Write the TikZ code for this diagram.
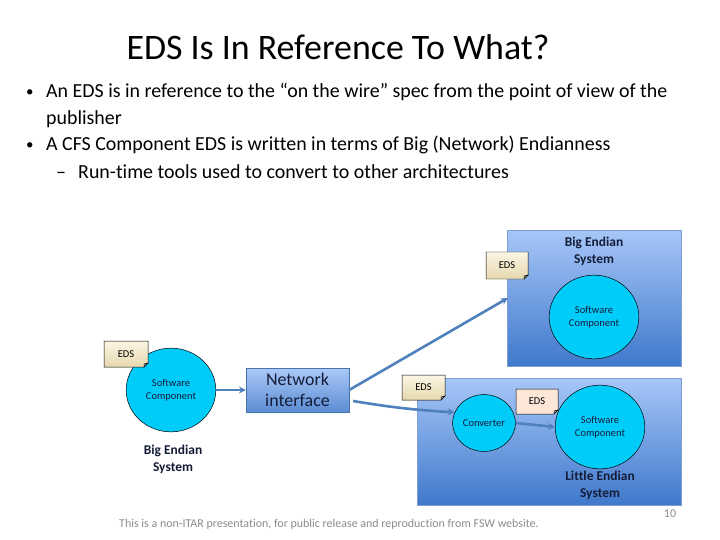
\documentclass[tikz,border=0pt]{standalone}
\usepackage{fontspec}
\setmainfont{Carlito}[Ligatures=CommonOff]
\usetikzlibrary{shapes.geometric,arrows.meta,calc}
\definecolor{arrowblue}{HTML}{4F81BD}
\definecolor{boxtop}{HTML}{A6C6F8}
\definecolor{boxbot}{HTML}{3F78CB}
\definecolor{boxline}{HTML}{7E9ED0}
\definecolor{cyanfill}{HTML}{00CCFA}
\definecolor{navytext}{HTML}{141C38}
\definecolor{notetop}{HTML}{FBF5E4}
\definecolor{notebot}{HTML}{E6D8AE}
\definecolor{notepink}{HTML}{FCE6D8}
\definecolor{footgray}{HTML}{8C8C8C}
\tikzset{
  sysbox/.style={draw=boxline, line width=0.6, top color=boxtop, bottom color=boxbot, inner sep=0},
  swcircle/.style={ellipse, draw=black, line width=0.5, fill=cyanfill, inner sep=0, font=\fontsize{10.5}{13}\selectfont, text=navytext, align=center},
  syslabel/.style={font=\bfseries\fontsize{13.5}{17}\selectfont, text=navytext, align=center},
  netbox/.style={draw=arrowblue!90!black, line width=0.6, top color=boxtop!95!white, bottom color=boxbot!85!white, minimum width=103, minimum height=44, inner sep=0, font=\fontsize{18}{21}\selectfont, text=navytext, align=center},
  conn/.style={draw=arrowblue, line width=2.6, -{Stealth[length=7,width=7]}},
  notebody/.style={draw=black, line width=0.5},
  notetext/.style={font=\fontsize{10.5}{12}\selectfont, text=black},
  bullet/.style={anchor=base west, font=\fontsize{20}{24}\selectfont, inner sep=0},
  bulletdot/.style={anchor=base west, font=\fontsize{15}{20}\selectfont, inner sep=0}
}
\newcommand{\mynote}[6]{% name, x1,y1,x2,y2, fillspec
  \path[notebody,#6] (#2,#3) -- (#4,#3) -- (#4,#5-4) -- (#4-4,#5) -- (#2,#5) -- cycle;
  \path[draw=black, line width=0.5, fill=gray!60] (#4,#5-4) -- (#4-4,#5-3) -- (#4-4,#5) -- cycle;
  \node[notetext] (#1) at ({(#2+#4)/2},{(#3+#5)/2}) {EDS};
}
\begin{document}
\begin{tikzpicture}[x=1bp,y=-1bp]
\useasboundingbox (0,0) rectangle (720,540);
\fill[white] (0,0) rectangle (720,540);

% title and bullets
\node[font=\fontsize{36}{40}\selectfont] (title) at (338,47) {EDS Is In Reference To What?};
\node[bulletdot] (b1d) at (26,97) {•};
\node[bullet] (b1) at (46,98) {An EDS is in reference to the “on the wire” spec from the point of view of the};
\node[bullet] (b1b) at (46,125) {publisher};
\node[bulletdot] (b2d) at (26,150) {•};
\node[bullet] (b2) at (46,151) {A CFS Component EDS is written in terms of Big (Network) Endianness};
\node[bullet] (b3d) at (56,179) {–};
\node[bullet] (b3) at (78,179) {Run-time tools used to convert to other architectures};

% systems boxes
\node[sysbox, minimum width=175, minimum height=137] (bigbox) at (594.5,298.5) {};
\node[sysbox, minimum width=265, minimum height=128] (littlebox) at (549.5,442) {};

% top-right big endian system
\node[syslabel] (biglabel) at (594,251) {Big Endian\\System};
\node[swcircle, minimum width=90, minimum height=84] (swtop) at (594,317) {Software\\Component};
\mynote{edstop}{486}{252}{528}{279}{top color=notetop, bottom color=notebot}

% little endian system
\node[swcircle, minimum width=63, minimum height=57] (conv) at (484,423) {Converter};
\node[swcircle, minimum width=90, minimum height=84] (swlittle) at (600,427) {Software\\Component};
\node[syslabel] (littlelabel) at (600,485) {Little Endian\\System};
\mynote{edslittle}{402}{375}{445}{400}{top color=notetop, bottom color=notebot}
\mynote{edsmid}{516}{389}{558}{414}{fill=notepink}

% left big endian system
\node[swcircle, minimum width=90, minimum height=84] (swleft) at (171,390) {Software\\Component};
\mynote{edsleft}{104}{341}{148}{367}{top color=notetop, bottom color=notebot}
\node[syslabel] (leftlabel) at (173,459) {Big Endian\\System};

% network interface
\node[netbox] (net) at (297.5,390) {Network\\interface};

% connectors
\coordinate (netout) at (353,401);
\draw[conn] (swleft.east) -- (net.west);
\draw[conn, shorten >=-1] (net.east) -- (bigbox.west);
\draw[conn] (netout) to[bend right=3] (conv.160);
\draw[conn] (conv.east) -- (swlittle.west);

% footer
\node[font=\fontsize{12}{14}\selectfont, text=footgray] (footer) at (329,524) {This is a non-ITAR presentation, for public release and reproduction from FSW website.};
\node[font=\fontsize{12}{14}\selectfont, text=footgray] (pagenum) at (670,514) {10};
\end{tikzpicture}
\end{document}
